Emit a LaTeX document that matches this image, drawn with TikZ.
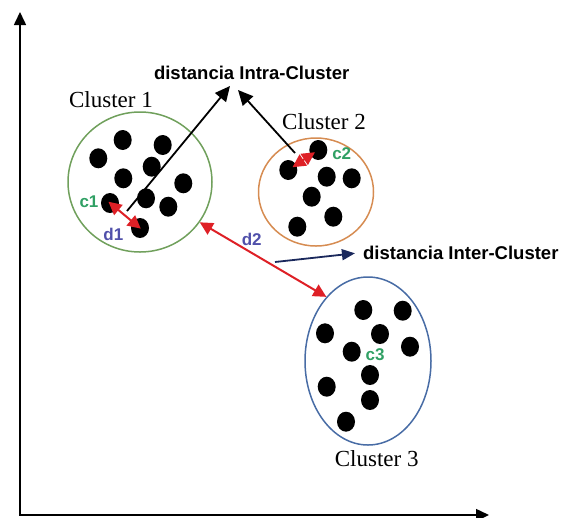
\documentclass[tikz,border=0pt]{standalone}
\usepackage{fontspec}
\setmainfont{Liberation Serif}
\setsansfont{Liberation Sans}
\usepackage{tikz}
\usetikzlibrary{arrows.meta, shapes, positioning}

\definecolor{ringgreen}{RGB}{112,160,92}
\definecolor{ringorange}{RGB}{214,140,82}
\definecolor{ringblue}{RGB}{72,108,165}
\definecolor{tagsgreen}{RGB}{48,160,100}
\definecolor{tagsblue}{RGB}{80,80,170}
\definecolor{arrowred}{RGB}{222,32,38}
\definecolor{arrownavy}{RGB}{26,40,92}

\begin{document}
\begin{tikzpicture}[x=1pt, y=-1pt,
	dot/.style = {ellipse, fill=black, minimum width=18pt, minimum height=20pt, inner sep=0pt},
	cluster/.style = {draw, ellipse, line width=1.5pt, inner sep=0pt},
	clustername/.style = {font=\fontsize{23}{25}\selectfont, inner sep=0pt},
	tag/.style = {font=\sffamily\bfseries\fontsize{17}{19}\selectfont, inner sep=0pt},
	heading/.style = {font=\sffamily\bfseries\fontsize{18.5}{20}\selectfont, inner sep=0pt},
	axis/.style = {-{Triangle[length=13pt, width=12pt]}, line width=1.6pt},
	blackarrow/.style = {-{Triangle[length=15pt, width=14pt]}, line width=1.8pt},
	redarrow/.style = {{Triangle[length=13pt, width=13pt]}-{Triangle[length=13pt, width=13pt]}, draw=arrowred, line width=2pt}]
	\useasboundingbox (0,0) rectangle (561,517);
	% axes
	\coordinate (Origin) at (20,515);
	\coordinate (YEnd) at (20,12);
	\coordinate (XEnd) at (489,515);
	\draw [axis] (Origin) -- (YEnd);
	\draw [axis] ([xshift=-0.8pt]Origin) -- (XEnd);

	% the three clusters
	\node [cluster, draw=ringgreen, minimum width=144pt, minimum height=140pt] (Cluster1) at (140,182) {};
	\node [cluster, draw=ringorange, minimum width=115pt, minimum height=108pt] (Cluster2) at (316,192) {};
	\node [cluster, draw=ringblue, minimum width=126pt, minimum height=168pt] (Cluster3) at (368,361) {};
	\node [clustername] (Name1) at (111,100) {Cluster 1};
	\node [clustername] (Name2) at (324,121.5) {Cluster 2};
	\node [clustername] (Name3) at (376.7,459) {Cluster 3};

	% points
	\foreach \x/\y in {122.7/140, 162.7/145, 98.3/158.3, 151.7/166.7, 123.3/178.3, 183.3/183.3, 146/198.3, 168.3/206.7}
		\node [dot] at (\x,\y) {};
	\node [dot] (C1Point) at (110,203) {};
	\node [dot] (D1Point) at (140,228) {};
	\foreach \x/\y in {326.7/176.7, 351.7/178.3, 311.7/196.7, 333.3/216.7, 297.3/226.7}
		\node [dot] at (\x,\y) {};
	\node [dot] (C2Left) at (288.3,170) {};
	\node [dot] (C2Right) at (318.3,150) {};
	\foreach \x/\y in {363.3/310, 402.7/310.7, 325/333.3, 380/334, 410/346.7, 351.7/351.7, 370/375, 326.7/386.7, 370/400, 346/421.7}
		\node [dot] at (\x,\y) {};

	\node [tag, text=tagsgreen] (c1) at (89,201.7) {c1};
	\node [tag, text=tagsgreen] (c2) at (341.7,153.3) {c2};
	\node [tag, text=tagsgreen] (c3) at (375,355) {c3};
	\node [tag, text=tagsblue] (d1) at (113.3,234) {d1};
	\node [tag, text=tagsblue] (d2) at (251.7,239) {d2};

	\node [heading] (Intra) at (251.7,72.5) {distancia Intra-Cluster};
	\node [heading] (Inter) at (460.8,253.3) {distancia Inter-Cluster};

	% distances
	\draw [redarrow, shorten <=-2pt, shorten >=-1pt] (C1Point.center) -- (D1Point.center);
	\draw [redarrow, shorten <=5pt, shorten >=4pt] (C2Left.center) -- (C2Right.center);
	\draw [redarrow] (Cluster1.-34) -- (Cluster3.123);

	\coordinate (IntraFrom1) at (127,211);
	\coordinate (IntraTip1) at (230,86);
	\coordinate (IntraFrom2) at (295,153);
	\coordinate (IntraTip2) at (238,90);
	\draw [blackarrow] (IntraFrom1) -- (IntraTip1);
	\draw [blackarrow] (IntraFrom2) -- (IntraTip2);

	\coordinate (InterFrom) at (275,262);
	\draw [-{Triangle[length=13pt, width=11pt]}, draw=arrownavy, fill=arrownavy, line width=1.8pt] (InterFrom) -- ([xshift=-8pt]Inter.west);
\end{tikzpicture}
\end{document}
